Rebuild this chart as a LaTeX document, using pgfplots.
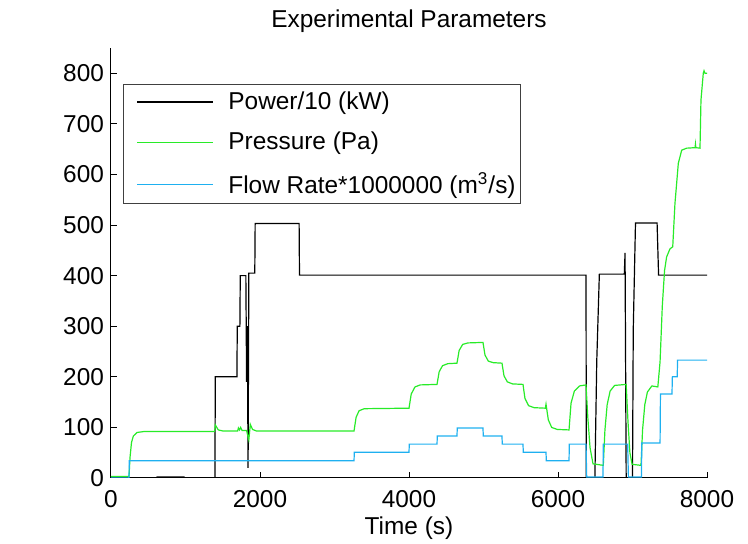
\documentclass[border=0pt]{standalone}
\usepackage{fontspec}
\setmainfont{Liberation Sans}
\usepackage{pgfplots}
\pgfplotsset{compat=1.18}
\definecolor{mgreen}{RGB}{40,235,40}
\definecolor{mblue}{RGB}{30,176,240}
\newcommand{\ff}{\fontsize{12.2}{14}\selectfont}
\begin{document}
\begin{tikzpicture}
\useasboundingbox (-55.5pt,-33pt) rectangle (318.5pt,239pt);
\begin{axis}[
  at={(0,0)}, anchor=south west, scale only axis,
  width=298pt, height=215pt,
  xmin=0, xmax=8000, ymin=0, ymax=850,
  axis x line*=bottom, axis y line*=left,
  axis line style={-, line width=0.5pt},
  tick align=inside, major tick length=3pt,
  tick style={line width=0.5pt, black},
  xtick={0,2000,4000,6000,8000},
  ytick={0,100,200,300,400,500,600,700,800},
  scaled x ticks=false,
  /pgf/number format/1000 sep={},
  /pgf/number format/assume math mode=true,
  tick label style={font=\ff},
  xticklabel style={yshift=-2.5pt},
  title={Experimental Parameters},
  title style={at={(0.5,1)}, anchor=center, yshift=7.5pt, font=\ff},
  xlabel={Time (s)},
  xlabel style={at={(0.5,0)}, anchor=center, yshift=-25pt, font=\ff},
  legend style={at={(0.02,0.916)}, anchor=north west, draw=black!75, line width=0.5pt,
    fill=white, font=\ff, legend cell align=left, row sep=6pt,
    inner xsep=0.5pt, inner ysep=1.5pt},
  legend image code/.code={%
    \path[draw=none] (0pt,0pt) -- (50pt,0pt);
    \draw[line width=0.6pt,#1] plot coordinates {(6.5pt,0pt) (25pt,0pt) (44.5pt,0pt)};},
  every axis plot/.append style={line width=0.6pt},
]
\addplot[black] coordinates {
(0,0) (600,0) (620,2) (980,2) (990,0) (1395,0) (1400,200) (1690,200) (1695,300) (1730,300)
(1735,400) (1810,400) (1815,300) (1820,190) (1830,300) (1840,20) (1850,405) (1930,405)
(1935,503) (2525,503) (2530,401) (6376,401) (6380,0) (6495,0) (6520,230) (6555,403)
(6890,403) (6900,445) (6915,0) (7000,0) (7010,292) (7040,504) (7330,504) (7350,401) (8000,401)
};
\addlegendentry{Power/10 (kW)}
\addplot[mgreen] coordinates {
(0,3) (242,3) (255,40) (275,70) (300,83) (350,90) (450,92) (1390,92) (1400,105) (1440,95)
(1500,93) (1700,93) (1710,99) (1725,95) (1740,100) (1760,94) (1820,94) (1850,75) (1870,106)
(1900,96) (1950,93) (3262,93)
(3290,120) (3330,133) (3400,137) (4000,138)
(4030,166) (4080,180) (4150,184) (4376,185)
(4405,210) (4450,222) (4520,226) (4644,227)
(4673,252) (4720,264) (4790,267) (4993,268)
(5020,243) (5065,231) (5130,228) (5248,227)
(5275,202) (5320,190) (5390,186) (5530,185)
(5557,157) (5605,143) (5680,139) (5830,138) (5839,146) (5845,140) (5870,115) (5915,100) (5990,96) (6148,95)
(6175,148) (6220,172) (6290,182) (6376,184)
(6400,120) (6430,60) (6470,28) (6608,25)
(6630,95) (6660,145) (6700,172) (6760,183) (6915,185)
(6940,110) (6965,50) (6995,27) (7114,25)
(7135,95) (7165,145) (7200,170) (7260,182) (7340,180)
(7370,230) (7400,340) (7430,410) (7458,437) (7503,453) (7540,457) (7570,543) (7615,622)
(7660,648) (7727,652) (7840,653) (7845,660) (7850,653) (7906,652) (7919,747) (7950,800)
(7960,805) (7973,800) (8000,800)
};
\addlegendentry{Pressure (Pa)}
\addplot[mblue] coordinates {
(0,0) (242,0) (245,34) (3262,34) (3266,51) (4000,51) (4004,67) (4376,67) (4380,83) (4644,83)
(4648,99) (4993,99) (4997,83) (5248,83) (5252,67) (5530,67) (5534,51) (5839,51) (5843,34)
(6148,34) (6152,67) (6376,67) (6385,2) (6604,2) (6608,67) (6935,67) (6945,2) (7120,2)
(7125,69) (7370,69) (7375,166) (7530,166) (7535,200) (7600,200) (7605,233) (8000,233)
};
\addlegendentry{Flow Rate*1000000 (m\textsuperscript{3}/s)}
\end{axis}
\end{tikzpicture}
\end{document}
